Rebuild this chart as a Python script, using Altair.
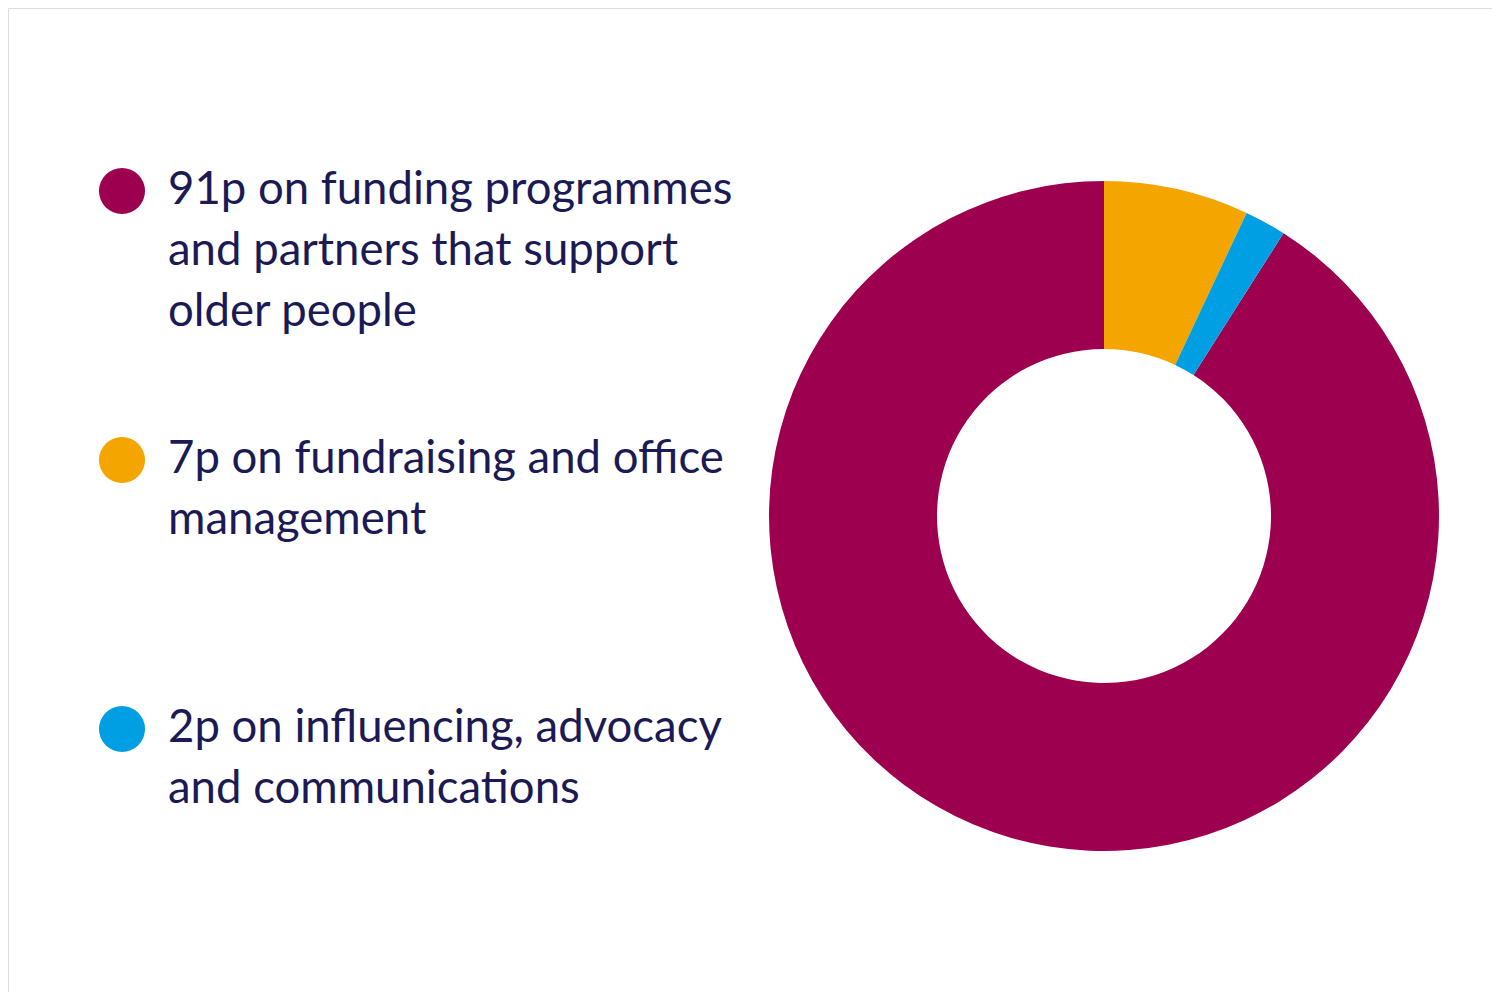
import altair as alt
import pandas as pd

categories = ["Programmes", "Fundraising", "Influencing"]
values = [91, 7, 2]
colors = ["#9E0050", "#F5A500", "#009FE3"]
labels = [
    ["91p on funding programmes", "and partners that support", "older people"],
    ["7p on fundraising and office", "management"],
    ["2p on influencing, advocacy", "and communications"],
]
legend_rank = [0, 1, 2]
arc_order = [3, 1, 2]  # orange first from 12 o'clock, then blue, then magenta

df = pd.DataFrame({
    "category": categories,
    "value": values,
    "label": labels,
    "rank": legend_rank,
    "arc_order": arc_order,
})

color = alt.Color("category:N", scale=alt.Scale(domain=categories, range=colors), legend=None)

arc = alt.Chart(df).mark_arc(outerRadius=335, innerRadius=167).encode(
    theta=alt.Theta("value:Q", stack=True),
    order=alt.Order("arc_order:Q"),
    color=color,
    x=alt.value(1104 - 8),
    y=alt.value(516 - 8),
)

yscale = alt.Scale(domain=[0, 2], range=[191 - 8, 729 - 8])

dots = alt.Chart(df).mark_point(filled=True, shape="circle", size=2124, opacity=1).encode(
    x=alt.value(122 - 8),
    y=alt.Y("rank:Q", scale=yscale, axis=None),
    color=color,
)

texts = alt.Chart(df).mark_text(
    align="left", baseline="alphabetic", font="Lato", fontSize=45.5,
    lineHeight=61, color="#1B1A55", dy=13,
).encode(
    x=alt.value(168 - 8),
    y=alt.Y("rank:Q", scale=yscale, axis=None),
    text="label",
)

chart = alt.layer(arc, dots, texts).properties(
    width=1484, height=984,
    autosize=alt.AutoSizeParams(type="none"),
    padding=0,
).configure_view(stroke="transparent", strokeWidth=0).configure(background="white")

chart.save("out.html", embed_options={"renderer": "svg", "actions": False})
